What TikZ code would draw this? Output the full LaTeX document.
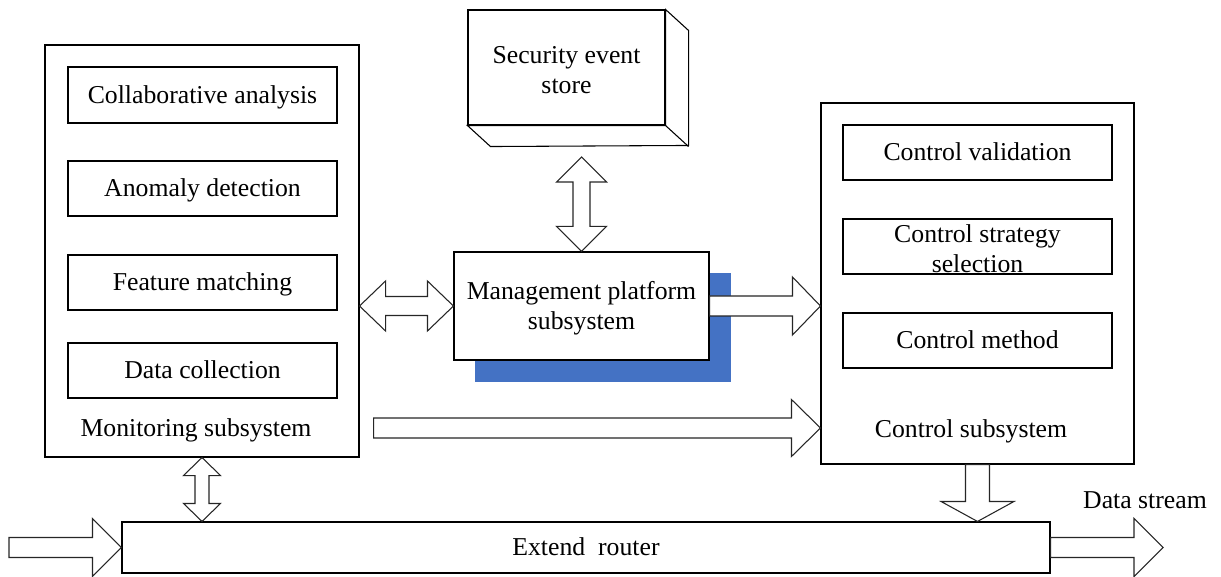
\documentclass[tikz,border=0pt]{standalone}
\usepackage{fontspec}
\setmainfont{Liberation Serif}
\usetikzlibrary{calc}
\definecolor{shadowblue}{RGB}{68,114,196}
\newcommand\pxu{0.75pt}
% block arrows: start, tip, shaft half width, head half width, head length
\newcommand\blockright[5]{\draw[blk] let \p1=(#1),\p2=(#2) in
  (\x1,\y1+#3*\pxu) -- (\x2-#5*\pxu,\y1+#3*\pxu) -- (\x2-#5*\pxu,\y1+#4*\pxu) -- (\x2,\y1)
  -- (\x2-#5*\pxu,\y1-#4*\pxu) -- (\x2-#5*\pxu,\y1-#3*\pxu) -- (\x1,\y1-#3*\pxu) -- cycle;}
\newcommand\blockboth[5]{\draw[blk] let \p1=(#1),\p2=(#2) in
  (\x1,\y1) -- (\x1+#5*\pxu,\y1+#4*\pxu) -- (\x1+#5*\pxu,\y1+#3*\pxu) -- (\x2-#5*\pxu,\y1+#3*\pxu)
  -- (\x2-#5*\pxu,\y1+#4*\pxu) -- (\x2,\y1) -- (\x2-#5*\pxu,\y1-#4*\pxu) -- (\x2-#5*\pxu,\y1-#3*\pxu)
  -- (\x1+#5*\pxu,\y1-#3*\pxu) -- (\x1+#5*\pxu,\y1-#4*\pxu) -- cycle;}
\newcommand\blockdown[5]{\draw[blk] let \p1=(#1),\p2=(#2) in
  (\x1-#3*\pxu,\y1) -- (\x1-#3*\pxu,\y2+#5*\pxu) -- (\x1-#4*\pxu,\y2+#5*\pxu) -- (\x1,\y2)
  -- (\x1+#4*\pxu,\y2+#5*\pxu) -- (\x1+#3*\pxu,\y2+#5*\pxu) -- (\x1+#3*\pxu,\y1) -- cycle;}
\newcommand\blockvboth[5]{\draw[blk] let \p1=(#1),\p2=(#2) in
  (\x1,\y1) -- (\x1+#4*\pxu,\y1-#5*\pxu) -- (\x1+#3*\pxu,\y1-#5*\pxu) -- (\x1+#3*\pxu,\y2+#5*\pxu)
  -- (\x1+#4*\pxu,\y2+#5*\pxu) -- (\x1,\y2) -- (\x1-#4*\pxu,\y2+#5*\pxu) -- (\x1-#3*\pxu,\y2+#5*\pxu)
  -- (\x1-#3*\pxu,\y1-#5*\pxu) -- (\x1-#4*\pxu,\y1-#5*\pxu) -- cycle;}
\begin{document}
\begin{tikzpicture}[x=0.75pt,y=-0.75pt,
  txt/.style={font=\fontsize{19.3}{22.5}\selectfont, align=center, inner sep=0pt},
  oneline/.style={text height=12.7pt, text depth=0pt},
  box/.style={draw, line width=0.8pt, fill=white, inner sep=0pt, txt},
  wh/.style 2 args={minimum width=#1*0.75pt, minimum height=#2*0.75pt},
  blk/.style={draw=black!85, line width=0.8pt, fill=white, line join=miter}]
\useasboundingbox (0,0) rectangle (1221,577);

% monitoring subsystem
\node[box, wh={314}{412}] (mon) at (202,251) {};
\node[box, oneline, wh={269}{56}] (collab) at (202.5,95) {Collaborative analysis};
\node[box, oneline, wh={269}{55}] (anom) at (202.5,188.5) {Anomaly detection};
\node[box, oneline, wh={269}{55}] (feat) at (202.5,282.5) {Feature matching};
\node[box, oneline, wh={269}{55}] (dcol) at (202.5,370.5) {Data collection};
\node[txt, oneline] (monlbl) at (196,428) {Monitoring subsystem};

% control subsystem
\node[box, wh={313}{361}] (ctrl) at (977.5,283.5) {};
\node[box, oneline, wh={269}{55}] (cval) at (977.5,152.5) {Control validation};
\node[box, wh={269}{55}] (cstr) at (977.5,246.5) {};
\node[txt, yshift=-2pt] (cstrtxt) at (cstr) {Control strategy\\selection};
\node[box, oneline, wh={269}{55}] (cmet) at (977.5,340.5) {Control method};
\node[txt, oneline] (ctrllbl) at (971,429) {Control subsystem};

% security event store (box drawn in 3D)
\node[box, wh={197}{115}] (store) at (566.5,67.5) {};
\node[txt, yshift=-2pt] (storetxt) at (store) {Security event\\store};
\draw[line width=0.8pt, fill=white] (store.north east) -- ++(23,21) -- ++(0,115)
  -- ($(store.south west)+(23,21)$) -- (store.south west) -- (store.south east) -- cycle;
\draw[line width=0.8pt] (store.south east) -- ++(23,21);

% management platform with offset shadow
\fill[shadowblue] (475,273) rectangle (731,382);
\node[box, wh={255}{108}] (mgmt) at (581.5,306) {};
\node[txt, yshift=-2pt] (mgmttxt) at (mgmt) {Management platform\\subsystem};

% extend router
\node[box, oneline, wh={928}{51}] (router) at (586,547.5) {Extend~~router};
\node[txt, oneline] (dstream) at (1145,500) {Data stream};

% connector end points
\coordinate (storeport) at (mgmt.north |- 0,157);
\coordinate (monport) at ($(mon.east |- monlbl)+(14,0)$);
\coordinate (inport) at (9,0 |- router.west);
\coordinate (outport) at (1163,0 |- router.east);

% block arrows
\blockvboth{storeport}{mgmt.north}{8.5}{25}{25}
\blockboth{mon.east |- mgmt.west}{mgmt.west}{9.5}{25}{26}
\blockright{mgmt.east}{ctrl.west |- mgmt.east}{10}{29}{28}
\blockright{monport}{ctrl.west |- monport}{10}{28.5}{29}
\blockvboth{mon.south}{mon.south |- router.north}{7}{18.5}{18}
\blockdown{ctrl.south}{ctrl.south |- router.north}{12}{36.5}{20}
\blockright{inport}{router.west}{10}{29}{29}
\blockright{router.east}{outport}{10}{29}{29}
\end{tikzpicture}
\end{document}
